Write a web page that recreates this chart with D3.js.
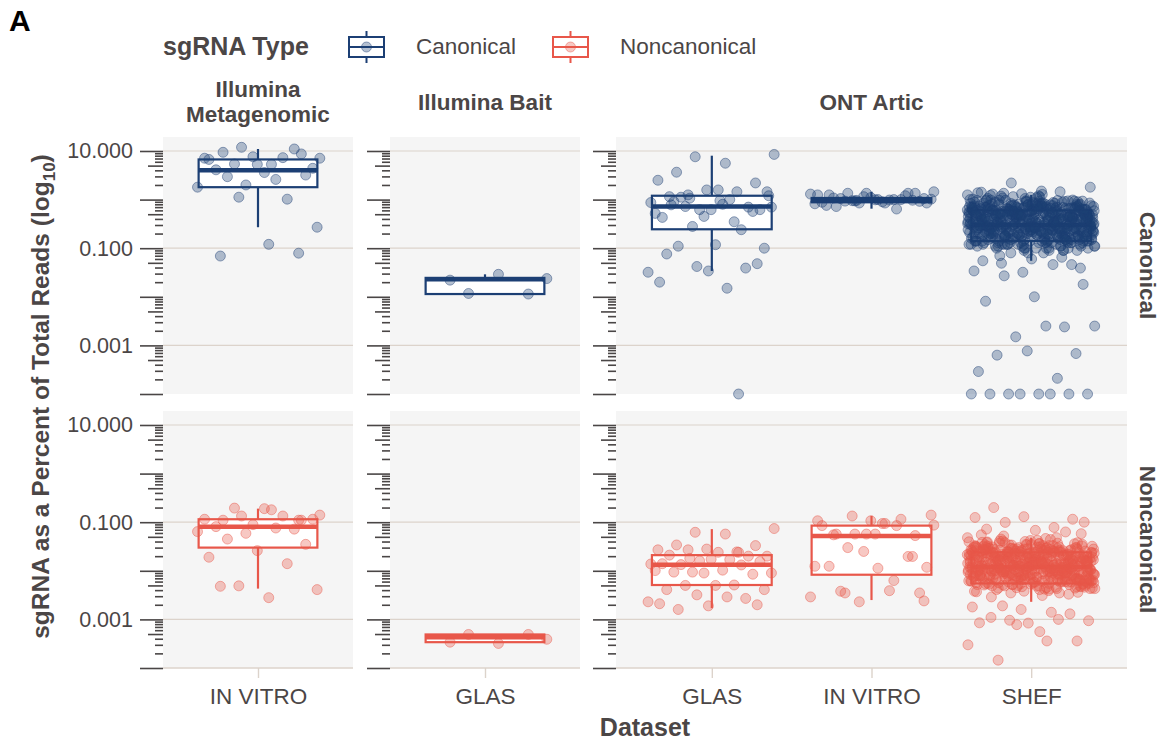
<!DOCTYPE html>
<html>
<head>
<meta charset="utf-8">
<script src="https://cdn.jsdelivr.net/npm/d3@7"></script>
<style>
  body { margin: 0; background: #fff; }
  svg text { font-family: "Liberation Sans", Arial, sans-serif; }
</style>
</head>
<body>
<svg id="chart" width="1165" height="742"></svg>
<script>
'use strict';

// facets and categories
const platforms = ['Illumina\nMetagenomic', 'Illumina Bait', 'ONT Artic'];
const sgTypes = ['Canonical', 'Noncanonical'];
const datasetsByPlatform = [['IN VITRO'], ['GLAS'], ['GLAS', 'IN VITRO', 'SHEF']];
const majorTicks = [1e-4, 1e-3, 1e-2, 1e-1, 1, 10];
const labelledTicks = [10, 0.1, 0.001];

// sgRNA % of total reads (box = [low whisker, q1, median, q3, high whisker])
const metaInvitroCanon = [11.9, 7.1, 5.3, 9.4, 8.7, 7.6, 7.1, 7.3, 5.4, 4.4, 3.6, 4.1, 11, 2.0, 1.8, 2.6, 2.96, 3.2, 5.3, 6.7, 1.02, 1.12, 0.27, 0.12, 0.069, 0.079];
const metaInvitroCanonBox = [0.27, 1.8, 4.0, 6.7, 11];
const metaInvitroNon = [0.134, 0.14, 0.18, 0.11, 0.11, 0.089, 0.115, 0.134, 0.195, 0.115, 0.19, 0.081, 0.072, 0.059, 0.064, 0.076, 0.045, 0.035, 0.026, 0.019, 0.014, 0.0049, 0.0041, 0.0028, 0.0048, 0.11];
const metaInvitroNonBox = [0.0043, 0.030, 0.081, 0.115, 0.19];

const baitGlasCanon = [0.0117, 0.0237, 0.029, 0.022, 0.0114];
const baitGlasCanonBox = [0.0114, 0.0114, 0.023, 0.0245, 0.029];
const baitGlasNon = [0.00049, 0.00039, 0.00032, 0.00034, 0.00049];
const baitGlasNonBox = [0.00034, 0.00034, 0.00043, 0.00049, 0.00049];

const articGlasCanon = [7.6, 8.5, 5.6, 3.66, 2.2, 1.58, 2.5, 1.45, 1.25, 1.45, 1.58, 1.15, 0.70, 0.62, 0.87, 1.0, 1.12, 0.62, 0.62, 0.43, 0.24, 0.28, 0.70, 0.8, 0.91, 0.57, 0.45, 0.52, 0.35, 0.72, 0.10, 0.118, 0.076, 0.039, 0.042, 0.032, 0.015, 0.11, 0.048, 0.034, 0.020, 0.0001, 1.07, 1.2, 0.95, 0.78];
const articGlasCanonBox = [0.034, 0.245, 0.72, 1.2, 8.0];
const articGlasNon = [0.062, 0.074, 0.057, 0.034, 0.033, 0.028, 0.027, 0.0245, 0.027, 0.020, 0.024, 0.021, 0.020, 0.016, 0.0138, 0.017, 0.0134, 0.0155, 0.0173, 0.014, 0.0132, 0.0094, 0.0090, 0.0103, 0.0094, 0.0085, 0.009, 0.0101, 0.0051, 0.005, 0.0041, 0.005, 0.0041, 0.0027, 0.0032, 0.0023, 0.0029, 0.0016, 0.0020, 0.0019, 0.0021, 0.024, 0.018];
const articGlasNonBox = [0.0017, 0.0051, 0.0133, 0.021, 0.072];

const articInvitroCanon = [0.94, 1.45, 0.85, 0.72, 1.35, 1.35, 1.25, 0.64, 1.35, 0.85, 1.0, 1.25, 1.35, 0.85, 1.3, 0.98, 1.05, 0.92, 1.1, 0.88, 1.0, 0.95, 1.02, 0.9, 1.08, 0.97, 1.15, 0.82, 1.0, 0.93, 1.05, 0.99, 0.76, 1.2, 0.96];
const articInvitroCanonBox = [0.65, 0.88, 0.97, 1.08, 1.45];
const articInvitroNon = [0.057, 0.087, 0.094, 0.057, 0.053, 0.057, 0.107, 0.085, 0.030, 0.0118, 0.0113, 0.0124, 0.0197, 0.0023, 0.0029, 0.0039, 0.0038, 0.0035, 0.107, 0.085, 0.115, 0.134, 0.14, 0.094, 0.055, 0.0197, 0.025, 0.0124, 0.0063, 0.0035, 0.0024, 0.057];
const articInvitroNonBox = [0.0025, 0.0083, 0.052, 0.085, 0.135];

const articShefCanon = [0.31,0.72,0.15,0.48,0.22,0.95,0.11,0.36,0.58,0.19,0.83,0.27,0.13,0.66,0.41,0.09,0.52,0.24,1.12,0.17,0.38,0.77,0.29,0.14,0.61,0.46,0.21,0.88,0.33,0.12,0.55,0.26,0.69,0.18,0.43,1.25,0.1,0.35,0.79,0.23,0.5,0.16,0.63,0.3,0.92,0.2,0.44,0.13,0.71,0.28,0.57,0.11,0.39,0.85,0.25,0.16,0.49,0.68,0.22,0.34,1.05,0.14,0.6,0.27,0.42,0.19,0.75,0.32,0.12,0.53,0.24,0.97,0.18,0.4,0.65,0.21,0.08,0.47,0.29,0.81,0.15,0.37,0.56,0.23,1.35,0.13,0.45,0.7,0.26,0.17,0.59,0.31,0.1,0.51,0.9,0.2,0.36,0.64,0.14,0.28,0.76,0.43,0.19,0.54,0.25,1.18,0.12,0.33,0.62,0.22,0.48,0.16,0.86,0.3,0.41,0.09,0.67,0.27,0.18,0.5,0.35,0.99,0.15,0.58,0.24,0.44,0.11,0.73,0.32,0.2,0.52,0.38,0.14,0.82,0.26,0.47,0.17,0.61,0.29,1.08,0.21,0.4,0.13,0.69,0.34,0.23,0.55,0.16,0.93,0.28,0.46,0.12,0.66,0.37,0.19,0.57,0.25,0.8,0.31,0.1,0.42,0.6,0.22,1.42,0.15,0.49,0.27,0.74,0.18,0.36,0.53,0.2,0.87,0.3,0.14,0.63,0.39,0.24,0.45,0.11,0.71,0.33,0.17,0.56,0.26,0.96,0.21,0.43,0.13,0.65,0.29,0.5,0.16,0.78,0.35,0.23,0.59,0.12,0.4,1.15,0.19,0.52,0.28,0.68,0.15,0.34,0.84,0.25,0.47,0.1,0.62,0.31,0.2,0.55,0.38,0.14,0.9,0.27,0.44,0.18,0.72,0.32,0.22,0.58,0.13,0.48,1.02,0.24,0.37,0.16,0.64,0.3,0.09,0.51,0.21,0.81,0.35,0.17,0.46,0.26,0.7,0.12,0.41,0.6,0.23,0.94,0.19,0.33,0.54,0.28,0.15,0.76,0.39,0.11,0.5,0.25,1.28,0.2,0.43,0.67,0.14,0.36,0.57,0.22,0.85,0.29,0.17,0.49,0.32,0.63,0.13,0.4,0.08,0.74,0.27,0.21,0.53,0.34,0.98,0.16,0.45,0.62,0.24,0.12,0.38,0.79,0.3,0.18,0.56,0.42,0.2,0.89,0.26,0.1,0.47,0.66,0.23,0.35,1.1,0.15,0.52,0.28,0.71,0.19,0.31,0.59,0.14,0.44,0.25,0.83,0.37,0.21,0.61,0.13,0.48,0.27,0.75,0.17,0.4,0.55,0.22,0.92,0.32,0.11,0.5,0.29,0.69,0.2,0.36,0.58,0.16,0.43,1.2,0.24,0.65,0.33,0.12,0.46,0.26,0.8,0.19,0.39,0.54,0.3,0.15,0.73,0.23,0.42,0.1,0.6,0.35,0.97,0.18,0.51,0.28,0.67,0.21,0.45,0.14,0.86,0.31,0.37,0.57,0.25,0.13,0.49,0.7,0.2,0.34,1.32,0.17,0.53,0.27,0.64,0.22,0.41,0.09,0.78,0.3,0.16,0.47,0.36,0.91,0.24,0.55,0.12,0.62,0.32,0.19,0.44,0.26,1.0,0.15,0.5,0.68,0.23,0.39,0.11,0.58,0.29,0.82,0.21,0.43,0.14,0.74,0.34,0.18,0.52,0.27,0.95,0.2,0.4,0.61,0.13,0.46,0.25,0.77,0.33,0.17,0.56,0.1,0.38,1.22,0.22,0.48,0.3,0.66,0.16,0.42,0.59,0.28,0.88,0.19,0.35,0.08,0.53,0.24,0.71,0.14,0.45,0.31,0.63,0.21,1.06,0.26,0.5,0.12,0.37,0.79,0.18,0.57,0.29,0.41,0.15,0.85,0.23,0.47,0.67,0.11,0.34,0.54,0.2,0.93,0.27,0.44,0.16,0.72,0.32,0.13,0.6,0.25,0.39,1.38,0.19,0.51,0.22,0.65,0.3,0.1,0.46,0.83,0.17,0.36,0.58,0.24,0.14,0.49,0.28,0.75,0.21,0.4,0.98,0.12,0.55,0.33,0.18,0.62,0.26,0.43,0.15,0.7,0.35,0.2,0.52,0.09,0.8,0.29,0.38,0.6,0.23,1.14,0.16,0.45,0.31,0.68,0.13,0.5,0.27,0.87,0.19,0.41,0.57,0.22,0.34,0.11,0.64,0.25,0.96,0.3,0.47,0.17,0.73,0.36,0.14,0.54,0.21,0.42,0.07,0.78,0.28,0.5,1.45,
  2.2, 1.8, 1.5, 1.3, 0.046, 0.032, 0.034, 0.046, 0.027, 0.018, 0.010, 0.0081, 0.0024, 0.0015, 0.0025, 0.0025, 0.00063, 0.00068, 0.00077, 0.00029, 0.00021, 0.0001, 0.0001, 0.0001, 0.0001, 0.0001, 0.0001, 0.0001, 0.0001, 0.049, 0.039, 0.06, 0.055, 0.065];
const articShefCanonBox = [0.055, 0.14, 0.3, 0.6, 1.25];
const articShefNon = [0.012,0.028,0.0065,0.018,0.0095,0.035,0.0052,0.014,0.022,0.0078,0.031,0.011,0.0058,0.025,0.016,0.0042,0.02,0.0088,0.042,0.0071,0.015,0.029,0.0105,0.0061,0.024,0.017,0.0083,0.033,0.013,0.0049,0.021,0.0098,0.027,0.0068,0.016,0.048,0.0045,0.013,0.03,0.0092,0.019,0.0063,0.024,0.012,0.036,0.0081,0.017,0.0054,0.026,0.011,0.022,0.0047,0.015,0.032,0.0096,0.0066,0.019,0.026,0.0085,0.013,0.04,0.0057,0.023,0.0102,0.016,0.0074,0.029,0.012,0.005,0.02,0.0093,0.037,0.0069,0.015,0.025,0.0082,0.0035,0.018,0.011,0.031,0.0059,0.014,0.021,0.0089,0.052,0.0053,0.017,0.027,0.0099,0.0067,0.023,0.012,0.0041,0.02,0.034,0.0079,0.014,0.024,0.0056,0.011,0.029,0.016,0.0075,0.021,0.0097,0.045,0.0048,0.013,0.023,0.0086,0.018,0.0062,0.033,0.011,0.016,0.0038,0.026,0.0104,0.0072,0.019,0.013,0.038,0.006,0.022,0.0094,0.017,0.0044,0.028,0.012,0.0077,0.02,0.015,0.0055,0.031,0.0101,0.018,0.0065,0.024,0.011,0.041,0.0084,0.015,0.0051,0.026,0.013,0.0088,0.021,0.0064,0.036,0.0107,0.017,0.0046,0.025,0.014,0.0073,0.022,0.0095,0.03,0.012,0.0039,0.016,0.023,0.0083,0.055,0.0058,0.019,0.0103,0.028,0.007,0.014,0.021,0.0076,0.033,0.011,0.0054,0.024,0.015,0.0091,0.017,0.0043,0.027,0.0126,0.0068,0.022,0.0099,0.037,0.008,0.016,0.0049,0.025,0.011,0.019,0.0061,0.044,0.0093,0.02,0.0106,0.026,0.0059,0.013,0.032,0.0096,0.018,0.0071,0.028,0.012,0.0085,0.022,0.005,0.018,0.0392,0.009,0.014,0.0062,0.024,0.0115,0.0036,0.019,0.0081,0.031,0.0135,0.0066,0.017,0.0098,0.027,0.0047,0.015,0.023,0.0087,0.035,0.0073,0.0125,0.021,0.0108,0.0057,0.029,0.0148,0.0044,0.019,0.0095,0.048,0.0078,0.016,0.026,0.0053,0.0138,0.022,0.0084,0.033,0.0112,0.0067,0.018,0.0128,0.024,0.0052,0.0155,0.0031,0.028,0.0104,0.0079,0.02,0.0132,0.038,0.0063,0.017,0.0235,0.009,0.0045,0.0142,0.03,0.0112,0.0069,0.0215,0.0165,0.0086,0.034,0.01,0.0041,0.0185,0.026,0.0074,0.0122,0.0203,0.0095,0.058,0.0056,0.0168,0.011,0.028,0.0064,0.0145,0.0198,0.0082,0.0127,0.0037,0.0245,0.0097,0.0158,0.0048,0.032,0.0107,0.0071,0.0225,0.0135,0.0405,0.0061,0.0178,0.0114,0.0265,0.0088,0.0043,0.0152,0.0208,0.0077,0.0118,0.0305,0.0065,0.0172,0.0094,0.0228,0.0054,0.0139,0.0255,0.0083,0.0462,0.0116,0.0068,0.0188,0.0101,0.0292,0.0059,0.0149,0.0212,0.0079,0.0033,0.0124,0.0272,0.0092,0.0175,0.0063,0.0348,0.0109,0.0141,0.0052,0.0238,0.0087,0.0192,0.0121,0.0066,0.0315,0.0099,0.0162,0.0046,0.0218,0.0131,0.0075,0.0282,0.0103,0.0182,0.0057,0.0378,0.0117,0.0085,0.0248,0.0144,0.0069,0.0195,0.0029,0.0112,0.0262,0.0091,0.0158,0.0051,0.0325,0.0128,0.0076,0.0205,0.0106,0.0168,0.0042,0.0235,0.0137,0.0081,0.0298,0.0098,0.0177,0.0061,0.0422,0.0114,0.0222,0.0088,0.0148,0.0055,0.0268,0.0125,0.0072,0.0192,0.0101,0.0338,0.0064,0.0153,0.0232,0.0083,0.0119,0.0038,0.0252,0.0096,0.0171,0.0058,0.0308,0.0133,0.0078,0.0215,0.0108,0.0162,0.0047,0.0285,0.0122,0.0068,0.0185,0.0093,0.0365,0.0139,0.0052,0.0242,0.0111,0.0074,0.0198,0.0156,0.0087,0.0275,0.0063,0.0129,0.0044,0.0218,0.0102,0.0178,0.0071,0.0318,0.0116,0.0089,0.0255,0.0146,0.0056,0.0208,0.0097,0.0395,0.0066,0.0166,0.0124,0.0228,0.0081,0.0035,0.0288,0.0109,0.0158,0.0049,0.0205,0.0136,0.0076,0.0262,0.0094,0.0182,0.0059,0.0342,0.012,0.0227,0.0085,0.0151,0.0067,0.0298,0.0113,0.0192,0.0043,0.0246,0.0099,0.0139,0.0072,0.0215,0.0127,0.0062,0.0278,0.0105,0.0172,0.0053,0.0385,0.0117,0.0082,0.0235,0.0143,
  0.2, 0.115, 0.13, 0.125, 0.078, 0.099, 0.1, 0.068, 0.072, 0.063, 0.00078, 0.0003, 0.00036, 0.000145, 0.00036, 0.00084, 0.00085, 0.001, 0.00096, 0.00094, 0.00056, 0.0011, 0.0013, 0.0016, 0.0018, 0.0014, 0.0019];
const articShefNonBox = [0.0023, 0.0055, 0.012, 0.024, 0.048];

const colours = { Canonical: '#1c3f74', Noncanonical: '#e8574a' };
const textCol = '#4b4646';
const gridCol = '#dcd3cb';

// table built from the arrays above
const groups = [
  { col: 0, row: 0, set: 'IN VITRO', values: metaInvitroCanon, box: metaInvitroCanonBox },
  { col: 0, row: 1, set: 'IN VITRO', values: metaInvitroNon, box: metaInvitroNonBox },
  { col: 1, row: 0, set: 'GLAS', values: baitGlasCanon, box: baitGlasCanonBox },
  { col: 1, row: 1, set: 'GLAS', values: baitGlasNon, box: baitGlasNonBox },
  { col: 2, row: 0, set: 'GLAS', values: articGlasCanon, box: articGlasCanonBox },
  { col: 2, row: 1, set: 'GLAS', values: articGlasNon, box: articGlasNonBox },
  { col: 2, row: 0, set: 'IN VITRO', values: articInvitroCanon, box: articInvitroCanonBox },
  { col: 2, row: 1, set: 'IN VITRO', values: articInvitroNon, box: articInvitroNonBox },
  { col: 2, row: 0, set: 'SHEF', values: articShefCanon, box: articShefCanonBox },
  { col: 2, row: 1, set: 'SHEF', values: articShefNon, box: articShefNonBox }
];

// layout
const rowsPos = [{ top: 137, bottom: 394 }, { top: 411, bottom: 668 }];
const colsPos = [{ left: 163, right: 353 }, { left: 390, right: 580 }, { left: 616, right: 1127 }];

const svg = d3.select('#chart');

const yScales = rowsPos.map(r => d3.scaleLog().domain([1e-4, 19.4]).range([r.bottom, r.top]));
const xScales = colsPos.map((c, i) => d3.scalePoint().domain(datasetsByPlatform[i]).range([c.left, c.right]).padding(0.6));

const minorTicks = [];
const midTicks = [];
for (let e = -4; e <= 1; e++) {
  for (let k = 2; k <= 9; k++) {
    const v = k * Math.pow(10, e);
    if (v > 19.4) continue;
    (k === 5 ? midTicks : minorTicks).push(v);
  }
}

// panels
rowsPos.forEach((r, ri) => {
  colsPos.forEach((c, ci) => {
    const y = yScales[ri];
    svg.append('rect')
      .attr('x', c.left).attr('y', r.top)
      .attr('width', c.right - c.left).attr('height', r.bottom - r.top)
      .attr('fill', '#f5f5f5');

    svg.append('g').selectAll('line')
      .data(labelledTicks)
      .join('line')
      .attr('x1', c.left).attr('x2', c.right)
      .attr('y1', d => y(d)).attr('y2', d => y(d))
      .attr('stroke', gridCol).attr('stroke-width', 1.2);

    // log ticks
    const yAxis = (vals, size, fmt) => {
      const ax = svg.append('g')
        .attr('transform', `translate(${c.left},0)`)
        .call(d3.axisLeft(y).tickValues(vals).tickSize(size).tickPadding(7).tickFormat(fmt));
      ax.select('.domain').remove();
      ax.selectAll('line').attr('stroke', '#4a4646').attr('stroke-width', 1.6);
      ax.selectAll('text')
        .attr('fill', textCol)
        .style('font-size', '21.5px');
    };
    yAxis(majorTicks, 23, d => (ci === 0 && labelledTicks.includes(d) ? d3.format('.3f')(d) : ''));
    yAxis(midTicks, 15, () => '');
    yAxis(minorTicks, 8, () => '');

    if (ri === 1) {
      const ax = svg.append('g')
        .attr('transform', `translate(0,${r.bottom})`)
        .call(d3.axisBottom(xScales[ci]).tickSize(10).tickSizeOuter(0).tickPadding(10));
      ax.select('.domain').attr('stroke', gridCol).attr('stroke-width', 1.4)
        .attr('d', `M${c.left},0H${c.right}`);
      ax.selectAll('line').attr('stroke', gridCol).attr('stroke-width', 1.4);
      ax.selectAll('text')
        .attr('fill', textCol)
        .style('font-size', '22.5px');
    }
  });
});

// boxes then jittered points
const jitter = i => ((i * 0.6180339887 + 0.37) % 1) - 0.5;

groups.forEach(gr => {
  const x = xScales[gr.col];
  const y = yScales[gr.row];
  const colour = colours[sgTypes[gr.row]];
  const cx = x(gr.set);
  const bw = x.step() * 0.75;
  const [lo, q1, med, q3, hi] = gr.box;
  const g = svg.append('g');

  g.append('line')
    .attr('x1', cx).attr('x2', cx).attr('y1', y(hi)).attr('y2', y(lo))
    .attr('stroke', colour).attr('stroke-width', 2.2);
  g.append('rect')
    .attr('x', cx - bw / 2).attr('y', y(q3))
    .attr('width', bw).attr('height', y(q1) - y(q3))
    .attr('fill', '#fff').attr('stroke', colour).attr('stroke-width', 2.2);
  g.append('line')
    .attr('x1', cx - bw / 2).attr('x2', cx + bw / 2)
    .attr('y1', y(med)).attr('y2', y(med))
    .attr('stroke', colour).attr('stroke-width', 4.5);

  g.selectAll('circle')
    .data(gr.values)
    .join('circle')
    .attr('cx', (d, i) => cx + jitter(i) * x.step() * 0.8)
    .attr('cy', d => y(d))
    .attr('r', 5)
    .attr('fill', colour).attr('fill-opacity', 0.33)
    .attr('stroke', colour).attr('stroke-opacity', 0.45).attr('stroke-width', 1);
});

// strips
platforms.forEach((p, i) => {
  const lines = p.split('\n');
  const cx = (colsPos[i].left + colsPos[i].right) / 2;
  const t = svg.append('text')
    .attr('x', cx).attr('y', lines.length > 1 ? 97 : 110)
    .attr('text-anchor', 'middle')
    .attr('fill', textCol).style('font-size', '22.5px').style('font-weight', 'bold');
  lines.forEach((l, j) => t.append('tspan').attr('x', cx).attr('dy', j ? 25 : 0).text(l));
});

sgTypes.forEach((s, i) => {
  const cy = (rowsPos[i].top + rowsPos[i].bottom) / 2;
  svg.append('text')
    .attr('transform', `translate(1140,${cy}) rotate(90)`)
    .attr('text-anchor', 'middle')
    .attr('fill', textCol).style('font-size', '22.5px').style('font-weight', 'bold')
    .text(s);
});

// axis titles
svg.append('text')
  .attr('x', (colsPos[0].left + colsPos[2].right) / 2).attr('y', 736)
  .attr('text-anchor', 'middle')
  .attr('fill', textCol).style('font-size', '25px').style('font-weight', 'bold')
  .text('Dataset');

const yTitle = svg.append('text')
  .attr('transform', `translate(49,${(rowsPos[0].top + rowsPos[1].bottom) / 2 - 6}) rotate(-90)`)
  .attr('text-anchor', 'middle')
  .attr('fill', textCol).style('font-size', '24.5px').style('font-weight', 'bold');
yTitle.append('tspan').text('sgRNA as a Percent of Total Reads (log');
yTitle.append('tspan').attr('dy', 6).style('font-size', '17px').text('10');
yTitle.append('tspan').attr('dy', -6).text(')');

// legend
svg.append('text')
  .attr('x', 163).attr('y', 55)
  .attr('fill', textCol).style('font-size', '25px').style('font-weight', 'bold')
  .text('sgRNA Type');

const legendX = [349, 553];
sgTypes.forEach((s, i) => {
  const colour = colours[s];
  const lx = legendX[i];
  const g = svg.append('g');
  g.append('line').attr('x1', lx + 17.5).attr('x2', lx + 17.5).attr('y1', 31).attr('y2', 63)
    .attr('stroke', colour).attr('stroke-width', 2);
  g.append('rect').attr('x', lx).attr('y', 37).attr('width', 35).attr('height', 20)
    .attr('fill', '#fff').attr('stroke', colour).attr('stroke-width', 2);
  g.append('line').attr('x1', lx).attr('x2', lx + 35).attr('y1', 47).attr('y2', 47)
    .attr('stroke', colour).attr('stroke-width', 2);
  g.append('circle').attr('cx', lx + 17.5).attr('cy', 47).attr('r', 5)
    .attr('fill', colour).attr('fill-opacity', 0.33)
    .attr('stroke', colour).attr('stroke-opacity', 0.45);
  g.append('text').attr('x', lx + 67).attr('y', 54)
    .attr('fill', textCol).style('font-size', '22.5px')
    .text(s);
});

svg.append('text')
  .attr('x', 9).attr('y', 31)
  .attr('fill', '#000').style('font-size', '30px').style('font-weight', 'bold')
  .text('A');
</script>
</body>
</html>
